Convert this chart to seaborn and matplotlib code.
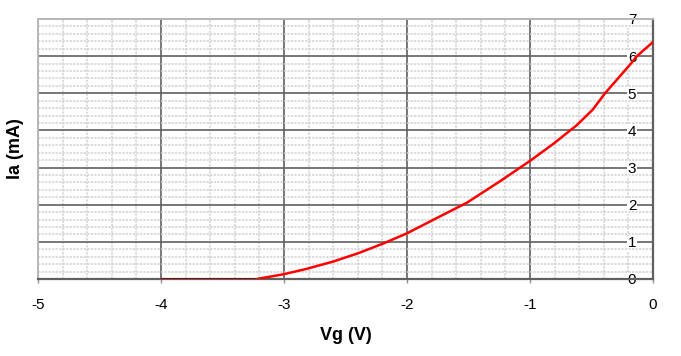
import matplotlib
matplotlib.use("Agg")
import matplotlib.pyplot as plt
from matplotlib.ticker import MultipleLocator
import pandas as pd
import seaborn as sns

# cut-off part of the curve (Ia = 0)
vg_cutoff = [-4.0, -3.6, -3.22]
ia_cutoff = [0.0, 0.0, 0.0]

# conducting part
vg = [-3.22, -3.0, -2.82, -2.6, -2.4, -2.19, -2.0, -1.8, -1.51,
      -1.24, -1.0, -0.81, -0.62, -0.49, -0.39, -0.29, -0.19, -0.13, -0.08, 0.0]
ia = [0.0, 0.13, 0.27, 0.47, 0.69, 0.96, 1.23, 1.57, 2.06,
      2.64, 3.18, 3.64, 4.14, 4.56, 5.0, 5.38, 5.76, 6.0, 6.15, 6.38]

x_ticks = [-5, -4, -3, -2, -1, 0]
y_ticks = [0, 1, 2, 3, 4, 5, 6, 7]

sns.set_style("white")
plt.rcParams['font.family'] = ['Liberation Sans', 'DejaVu Sans']
plt.rcParams['axes.unicode_minus'] = False
plt.rcParams['text.color'] = 'black'
plt.rcParams['axes.labelcolor'] = 'black'
plt.rcParams['xtick.color'] = 'black'
plt.rcParams['ytick.color'] = 'black'

fig = plt.figure(figsize=(6.81, 3.56), dpi=100)
ax = fig.add_axes([38/681, 77/356, 615/681, 260/356])

df_cut = pd.DataFrame({"Vg": vg_cutoff, "Ia": ia_cutoff})
df_on = pd.DataFrame({"Vg": vg, "Ia": ia})
sns.lineplot(data=df_cut, x="Vg", y="Ia", ax=ax, color="#8b0000", lw=2, zorder=5)
sns.lineplot(data=df_on, x="Vg", y="Ia", ax=ax, color="#ff0000", lw=1.8, zorder=5)

ax.set_xlim(-5, 0)
ax.set_ylim(0, 7)
ax.set_xticks(x_ticks)
ax.set_yticks(y_ticks)
ax.xaxis.set_minor_locator(MultipleLocator(0.2))
ax.yaxis.set_minor_locator(MultipleLocator(0.2))

ax.set_axisbelow(True)
ax.grid(which='minor', color='#d2d2d2', lw=1.1, ls=(0, (1.5, 0.8)))
ax.grid(which='major', color='#606060', lw=1.2)

for side in ['left', 'top']:
    ax.spines[side].set_color('#b8b8b8')
    ax.spines[side].set_linewidth(1.4)
for side in ['right', 'bottom']:
    ax.spines[side].set_color('#606060')
    ax.spines[side].set_linewidth(1.6)

ax.yaxis.tick_right()
ax.tick_params(axis='y', which='major', length=0, pad=-12, labelsize=11,
               labelcolor='black')
ax.tick_params(axis='x', which='major', length=3, width=1, color='#909090',
               pad=11, labelsize=11, labelcolor='black', bottom=True)
ax.tick_params(which='minor', length=0)
for lab in ax.get_yticklabels():
    lab.set_ha('right')
    lab.set_bbox(dict(facecolor='white', edgecolor='none', pad=0.5))

ax.set_xlabel("Vg (V)", fontsize=13, fontweight='bold', color='black')
ax.set_ylabel("Ia (mA)", fontsize=13, fontweight='bold', color='black')
ax.xaxis.set_label_coords(0.5, -0.185)
ax.yaxis.set_label_position('left')
ax.yaxis.set_label_coords(-0.022, 0.5)

plt.savefig("out.png", dpi=100)
